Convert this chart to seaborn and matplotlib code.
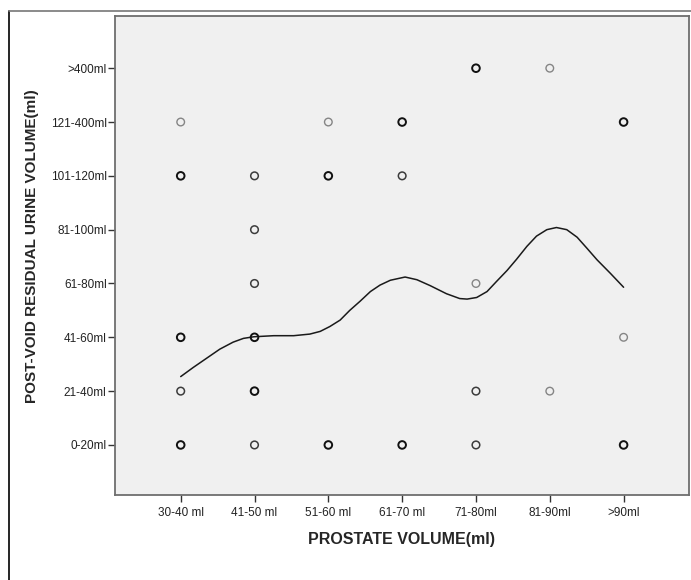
import pandas as pd
import matplotlib.pyplot as plt
import numpy as np
import seaborn as sns

x_labels = ["30-40 ml", "41-50 ml", "51-60 ml", "61-70 ml", "71-80ml", "81-90ml", ">90ml"]
y_labels = ["0-20ml", "21-40ml", "41-60ml", "61-80ml", "81-100ml", "101-120ml", "121-400ml", ">400ml"]

# scatter points: (prostate category, urine category, overlap level 1..3)
pt_x = [0, 0, 0, 0, 0,
        1, 1, 1, 1, 1, 1,
        2, 2, 2,
        3, 3, 3,
        4, 4, 4, 4,
        5, 5,
        6, 6, 6]
pt_y = [0, 1, 2, 5, 6,
        0, 1, 2, 3, 4, 5,
        0, 5, 6,
        0, 5, 6,
        0, 1, 3, 7,
        1, 7,
        0, 2, 6]
pt_n = [3, 2, 3, 3, 1,
        2, 3, 3, 2, 2, 2,
        3, 3, 1,
        3, 2, 3,
        2, 2, 1, 3,
        1, 1,
        3, 1, 3]

# fit line
fit_x = [0.00, 0.17, 0.35, 0.53, 0.71, 0.85, 0.99, 1.26, 1.53, 1.75, 1.89, 2.02,
         2.16, 2.29, 2.43, 2.57, 2.70, 2.84, 3.04, 3.20, 3.38, 3.60, 3.78, 3.88,
         4.01, 4.15, 4.28, 4.42, 4.55, 4.69, 4.82, 4.96, 5.09, 5.23, 5.37, 5.50,
         5.64, 5.82, 6.00]
fit_y = [1.27, 1.44, 1.61, 1.78, 1.91, 1.98, 2.01, 2.03, 2.03, 2.06, 2.11, 2.20,
         2.32, 2.50, 2.67, 2.85, 2.97, 3.06, 3.12, 3.07, 2.96, 2.81, 2.72, 2.71,
         2.74, 2.85, 3.04, 3.24, 3.45, 3.69, 3.88, 4.00, 4.04, 4.00, 3.86, 3.66,
         3.44, 3.19, 2.93]

pts = pd.DataFrame({"x": pt_x, "y": pt_y, "n": pt_n})
fit = pd.DataFrame({"x": fit_x, "y": fit_y})

sns.set_style("white")
plt.rcParams['font.family'] = ['Liberation Sans', 'DejaVu Sans']

fig = plt.figure(figsize=(6.91, 5.8), dpi=100)
ax = fig.add_axes([115/691, 85/580, 574/691, 479/580])
ax.set_facecolor("#f0f0f0")

# outer frame (cut off at right and bottom)
fig.add_artist(plt.Line2D([9/691, 9/691], [0, 1 - 11/580], color="black", lw=1.2))
fig.add_artist(plt.Line2D([9/691, 1], [1 - 11/580, 1 - 11/580], color="#777777", lw=1.2))

shades = {1: ("#858585", 1.0), 2: ("#3c3c3c", 1.1), 3: ("#111111", 1.4)}
for n, (col, lw) in shades.items():
    sub = pts[pts["n"] == n]
    sns.scatterplot(data=sub, x="x", y="y", ax=ax, s=30, marker="o",
                    facecolors="none", edgecolor=col, linewidth=lw, zorder=3)

sns.lineplot(data=fit, x="x", y="y", ax=ax, sort=False, estimator=None,
             color="#1a1a1a", lw=1.1, zorder=2)

ax.set_xlim(-0.89, 6.886)
ax.set_ylim(-0.93, 7.97)
ax.set_xticks(range(len(x_labels)))
ax.set_xticklabels(x_labels, fontsize=8.5)
ax.set_yticks(range(len(y_labels)))
ax.set_yticklabels(y_labels, fontsize=8.5)
ax.tick_params(axis="both", direction="out", length=5, width=1, color="#333333",
               pad=1, labelcolor="#222222", bottom=True, left=True)
ax.tick_params(axis="x", pad=4)

for sp in ax.spines.values():
    sp.set_color("#6e6e6e")
    sp.set_linewidth(1.3)

ax.set_xlabel("PROSTATE VOLUME(ml)", fontsize=11.5, fontweight="bold", labelpad=9)
ax.set_ylabel("POST-VOID RESIDUAL URINE VOLUME(ml)", fontsize=11.0, fontweight="bold")
ax.yaxis.set_label_coords(-0.132, 0.52)

plt.savefig("out.png", dpi=100)
plt.close()
